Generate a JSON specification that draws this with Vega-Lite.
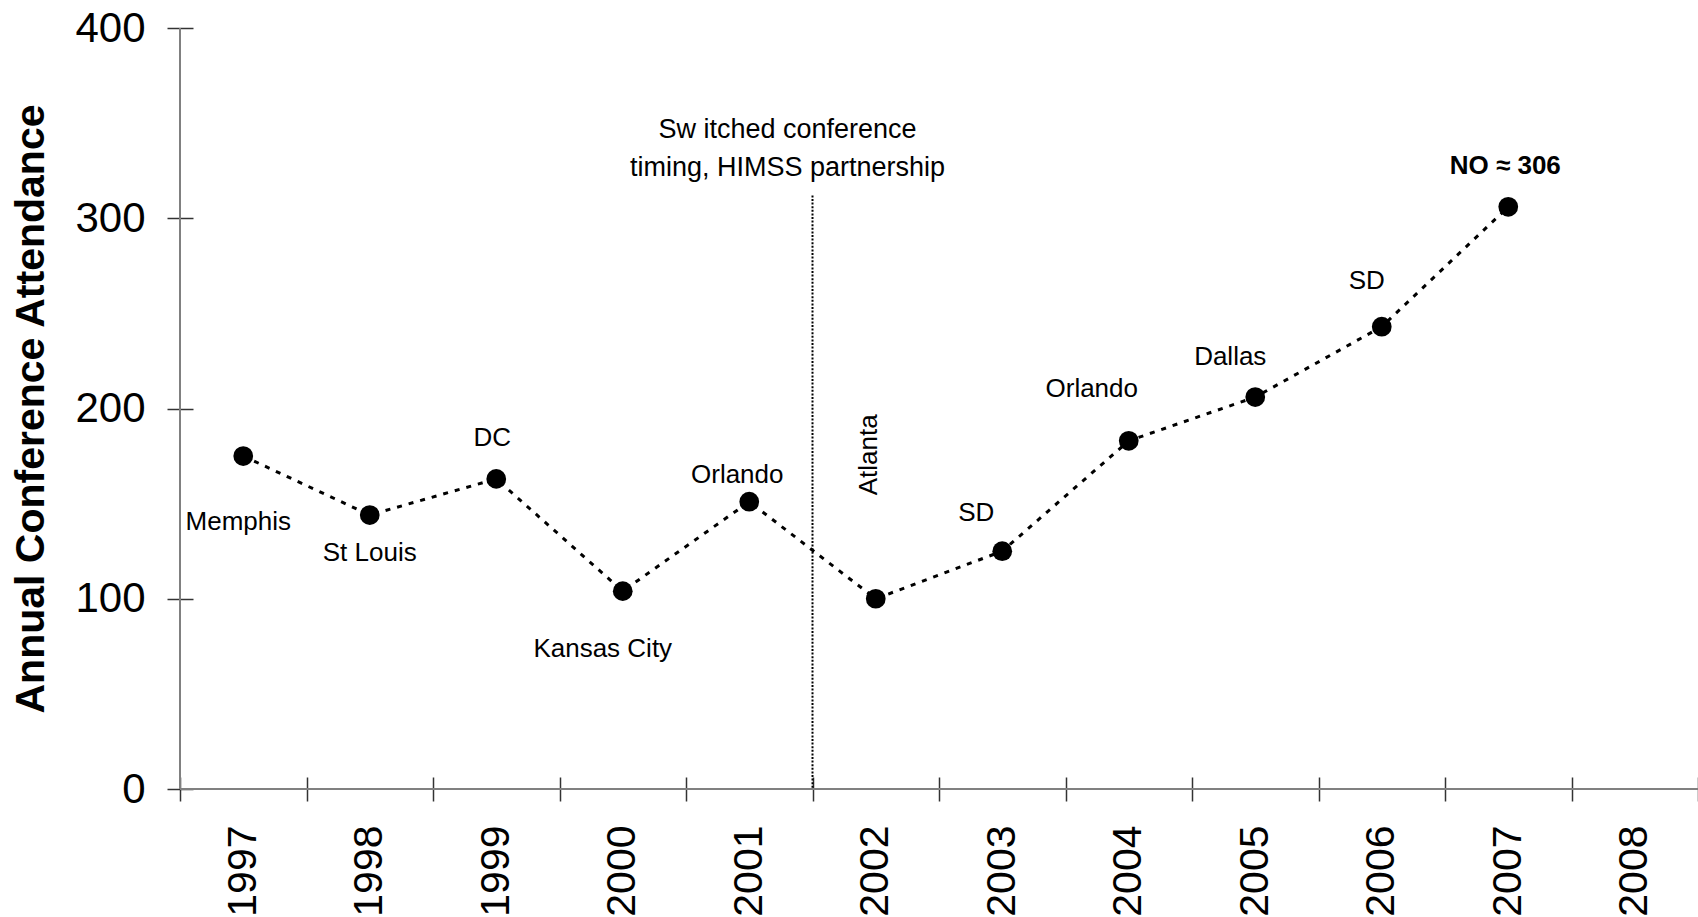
{
  "$schema": "https://vega.github.io/schema/vega-lite/v6.json",
  "width": 1518,
  "height": 761,
  "autosize": {"type": "none"},
  "padding": {"left": 180, "top": 28, "right": 0, "bottom": 128},
  "background": "white",
  "config": {
    "view": {"stroke": null},
    "font": "Liberation Sans",
    "axisX": {
      "domain": false, "offset": -12, "tickSize": 24, "tickColor": "#333333", "tickWidth": 1.5,
      "labelAngle": -90, "labelFontSize": 41, "labelPadding": 24, "labelColor": "black",
      "labelFont": "Liberation Sans", "grid": false
    },
    "axisY": {
      "domain": false, "offset": -13, "tickSize": 26, "tickColor": "#333333", "tickWidth": 1.5,
      "labelFontSize": 42, "labelPadding": 22, "labelColor": "black", "labelFont": "Liberation Sans",
      "titleFontSize": 41, "titleFont": "Liberation Sans", "titleFontWeight": "bold", "titleColor": "black",
      "titlePadding": 22, "grid": false
    }
  },
  "data": {
    "values": [
      {"year": "1997", "attendance": 175, "city": "Memphis"},
      {"year": "1998", "attendance": 144, "city": "St Louis"},
      {"year": "1999", "attendance": 163, "city": "DC"},
      {"year": "2000", "attendance": 104, "city": "Kansas City"},
      {"year": "2001", "attendance": 151, "city": "Orlando"},
      {"year": "2002", "attendance": 100, "city": "Atlanta"},
      {"year": "2003", "attendance": 125, "city": "SD"},
      {"year": "2004", "attendance": 183, "city": "Orlando"},
      {"year": "2005", "attendance": 206, "city": "Dallas"},
      {"year": "2006", "attendance": 243, "city": "SD"},
      {"year": "2007", "attendance": 306, "city": "NO ≈ 306"}
    ]
  },
  "layer": [
    {
      "data": {"values": [{"attendance": 0}]},
      "mark": {"type": "rule", "color": "#808080", "strokeWidth": 2},
      "encoding": {"y": {"field": "attendance", "type": "quantitative"}}
    },
    {
      "data": {"values": [{"year": "1997"}]},
      "mark": {"type": "rule", "color": "#808080", "strokeWidth": 2},
      "encoding": {"x": {"field": "year", "type": "ordinal", "bandPosition": 0}}
    },
    {
      "data": {"values": [{"year": "2002", "attendance": 312}]},
      "mark": {"type": "rule", "color": "black", "strokeWidth": 2, "strokeDash": [2, 1.6]},
      "encoding": {
        "x": {"field": "year", "type": "ordinal", "bandPosition": 0},
        "y": {"field": "attendance", "type": "quantitative"},
        "y2": {"datum": 0}
      }
    },
    {
      "mark": {"type": "line", "color": "black", "strokeWidth": 3, "strokeDash": [5, 7]},
      "encoding": {
        "x": {
          "field": "year", "type": "ordinal",
          "scale": {"type": "band", "domain": ["1997","1998","1999","2000","2001","2002","2003","2004","2005","2006","2007","2008"], "paddingInner": 0, "paddingOuter": 0},
          "axis": {"title": null, "tickBand": "extent"}
        },
        "y": {
          "field": "attendance", "type": "quantitative",
          "scale": {"domain": [0, 400], "nice": false},
          "axis": {"title": "Annual Conference Attendance", "values": [0, 100, 200, 300, 400]}
        }
      }
    },
    {
      "mark": {"type": "point", "filled": true, "color": "black", "size": 390, "opacity": 1},
      "encoding": {
        "x": {"field": "year", "type": "ordinal"},
        "y": {"field": "attendance", "type": "quantitative"}
      }
    },
    {
      "data": {"values": [{"year": "2002", "note": "Sw itched conference\ntiming, HIMSS partnership"}]},
      "mark": {"type": "text", "fontSize": 27, "lineBreak": "\n", "lineHeight": 38, "align": "center", "baseline": "middle", "dx": -25, "color": "black"},
      "encoding": {
        "x": {"field": "year", "type": "ordinal", "bandPosition": 0},
        "y": {"datum": 346.5, "type": "quantitative"},
        "text": {"field": "note"}
      }
    },
    {
      "transform": [{"filter": "datum.year == '1997'"}],
      "mark": {"type": "text", "fontSize": 26, "color": "black", "dx": -5, "dy": 66},
      "encoding": {"x": {"field": "year", "type": "ordinal"}, "y": {"field": "attendance", "type": "quantitative"}, "text": {"field": "city"}}
    },
    {
      "transform": [{"filter": "datum.year == '1998'"}],
      "mark": {"type": "text", "fontSize": 26, "color": "black", "dx": 0, "dy": 38},
      "encoding": {"x": {"field": "year", "type": "ordinal"}, "y": {"field": "attendance", "type": "quantitative"}, "text": {"field": "city"}}
    },
    {
      "transform": [{"filter": "datum.year == '1999'"}],
      "mark": {"type": "text", "fontSize": 26, "color": "black", "dx": -4, "dy": -41},
      "encoding": {"x": {"field": "year", "type": "ordinal"}, "y": {"field": "attendance", "type": "quantitative"}, "text": {"field": "city"}}
    },
    {
      "transform": [{"filter": "datum.year == '2000'"}],
      "mark": {"type": "text", "fontSize": 26, "color": "black", "dx": -20, "dy": 58},
      "encoding": {"x": {"field": "year", "type": "ordinal"}, "y": {"field": "attendance", "type": "quantitative"}, "text": {"field": "city"}}
    },
    {
      "transform": [{"filter": "datum.year == '2001'"}],
      "mark": {"type": "text", "fontSize": 26, "color": "black", "dx": -12, "dy": -27},
      "encoding": {"x": {"field": "year", "type": "ordinal"}, "y": {"field": "attendance", "type": "quantitative"}, "text": {"field": "city"}}
    },
    {
      "transform": [{"filter": "datum.year == '2002'"}],
      "mark": {"type": "text", "fontSize": 26, "color": "black", "angle": 270, "dx": 144, "dy": -7},
      "encoding": {"x": {"field": "year", "type": "ordinal"}, "y": {"field": "attendance", "type": "quantitative"}, "text": {"field": "city"}}
    },
    {
      "transform": [{"filter": "datum.year == '2003'"}],
      "mark": {"type": "text", "fontSize": 26, "color": "black", "dx": -26, "dy": -38},
      "encoding": {"x": {"field": "year", "type": "ordinal"}, "y": {"field": "attendance", "type": "quantitative"}, "text": {"field": "city"}}
    },
    {
      "transform": [{"filter": "datum.year == '2004'"}],
      "mark": {"type": "text", "fontSize": 26, "color": "black", "dx": -37, "dy": -52},
      "encoding": {"x": {"field": "year", "type": "ordinal"}, "y": {"field": "attendance", "type": "quantitative"}, "text": {"field": "city"}}
    },
    {
      "transform": [{"filter": "datum.year == '2005'"}],
      "mark": {"type": "text", "fontSize": 26, "color": "black", "dx": -25, "dy": -40},
      "encoding": {"x": {"field": "year", "type": "ordinal"}, "y": {"field": "attendance", "type": "quantitative"}, "text": {"field": "city"}}
    },
    {
      "transform": [{"filter": "datum.year == '2006'"}],
      "mark": {"type": "text", "fontSize": 26, "color": "black", "dx": -15, "dy": -46},
      "encoding": {"x": {"field": "year", "type": "ordinal"}, "y": {"field": "attendance", "type": "quantitative"}, "text": {"field": "city"}}
    },
    {
      "transform": [{"filter": "datum.year == '2007'"}],
      "mark": {"type": "text", "fontSize": 26, "fontWeight": "bold", "color": "black", "dx": -3, "dy": -41},
      "encoding": {"x": {"field": "year", "type": "ordinal"}, "y": {"field": "attendance", "type": "quantitative"}, "text": {"field": "city"}}
    }
  ]
}
